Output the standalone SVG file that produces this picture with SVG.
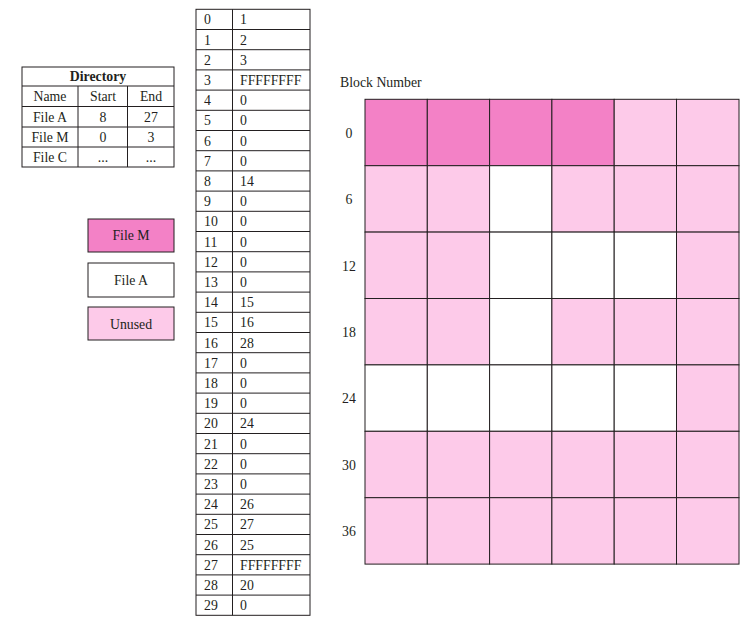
<svg xmlns="http://www.w3.org/2000/svg" width="752" height="619" viewBox="0 0 752 619">
<style>
text{font-family:"Liberation Serif","Times New Roman",serif;font-size:13.8px;fill:#231F20}
.b{font-weight:bold}
.m{text-anchor:middle}
.ln{stroke:#231F20;stroke-width:1;fill:none}
.dk{fill:#F381C6;stroke:#231F20;stroke-width:1}
.lt{fill:#FDCAE9;stroke:#231F20;stroke-width:1}
.wh{fill:#FFFFFF;stroke:#231F20;stroke-width:1}
</style>
<rect width="752" height="619" fill="#FFFFFF"/>
<g id="directory">
<rect class="wh" x="22" y="67" width="152" height="100"/>
<line class="ln" x1="22" y1="86" x2="174" y2="86"/>
<line class="ln" x1="22" y1="106.5" x2="174" y2="106.5"/>
<line class="ln" x1="22" y1="127" x2="174" y2="127"/>
<line class="ln" x1="22" y1="147" x2="174" y2="147"/>
<line class="ln" x1="78" y1="86" x2="78" y2="167"/>
<line class="ln" x1="127.5" y1="86" x2="127.5" y2="167"/>
<text class="b m" x="98" y="81">Directory</text>
<text class="m" x="50" y="101">Name</text>
<text class="m" x="103" y="101">Start</text>
<text class="m" x="151" y="101">End</text>
<text class="m" x="50" y="121.5">File A</text>
<text class="m" x="103" y="121.5">8</text>
<text class="m" x="151" y="121.5">27</text>
<text class="m" x="50" y="142">File M</text>
<text class="m" x="103" y="142">0</text>
<text class="m" x="151" y="142">3</text>
<text class="m" x="50" y="162">File C</text>
<text class="m" x="103" y="162">...</text>
<text class="m" x="151" y="162">...</text>
</g>
<g id="legend-filem"><rect class="dk" x="88" y="219" width="86" height="33"/><text class="m" x="131" y="240">File M</text></g>
<g id="legend-filea"><rect class="wh" x="88" y="263" width="86" height="34"/><text class="m" x="131" y="285">File A</text></g>
<g id="legend-unused"><rect class="lt" x="88" y="307" width="86" height="33"/><text class="m" x="131" y="328.5">Unused</text></g>
<g id="fat">
<rect class="wh" x="196" y="9.3" width="114" height="606"/>
<line class="ln" x1="232.5" y1="9.3" x2="232.5" y2="615.3"/>
<g class="ln">
<line x1="196" y1="29.5" x2="310" y2="29.5"/><line x1="196" y1="49.7" x2="310" y2="49.7"/><line x1="196" y1="69.9" x2="310" y2="69.9"/><line x1="196" y1="90.1" x2="310" y2="90.1"/><line x1="196" y1="110.3" x2="310" y2="110.3"/><line x1="196" y1="130.5" x2="310" y2="130.5"/><line x1="196" y1="150.7" x2="310" y2="150.7"/><line x1="196" y1="170.9" x2="310" y2="170.9"/><line x1="196" y1="191.1" x2="310" y2="191.1"/><line x1="196" y1="211.3" x2="310" y2="211.3"/><line x1="196" y1="231.5" x2="310" y2="231.5"/><line x1="196" y1="251.7" x2="310" y2="251.7"/><line x1="196" y1="271.9" x2="310" y2="271.9"/><line x1="196" y1="292.1" x2="310" y2="292.1"/><line x1="196" y1="312.3" x2="310" y2="312.3"/><line x1="196" y1="332.5" x2="310" y2="332.5"/><line x1="196" y1="352.7" x2="310" y2="352.7"/><line x1="196" y1="372.9" x2="310" y2="372.9"/><line x1="196" y1="393.1" x2="310" y2="393.1"/><line x1="196" y1="413.3" x2="310" y2="413.3"/><line x1="196" y1="433.5" x2="310" y2="433.5"/><line x1="196" y1="453.7" x2="310" y2="453.7"/><line x1="196" y1="473.9" x2="310" y2="473.9"/><line x1="196" y1="494.1" x2="310" y2="494.1"/><line x1="196" y1="514.3" x2="310" y2="514.3"/><line x1="196" y1="534.5" x2="310" y2="534.5"/><line x1="196" y1="554.7" x2="310" y2="554.7"/><line x1="196" y1="574.9" x2="310" y2="574.9"/><line x1="196" y1="595.1" x2="310" y2="595.1"/>
</g>
<text x="204" y="24.3">0</text><text x="240" y="24.3">1</text>
<text x="204" y="44.5">1</text><text x="240" y="44.5">2</text>
<text x="204" y="64.7">2</text><text x="240" y="64.7">3</text>
<text x="204" y="84.9">3</text><text x="240" y="84.9">FFFFFFFF</text>
<text x="204" y="105.1">4</text><text x="240" y="105.1">0</text>
<text x="204" y="125.3">5</text><text x="240" y="125.3">0</text>
<text x="204" y="145.5">6</text><text x="240" y="145.5">0</text>
<text x="204" y="165.7">7</text><text x="240" y="165.7">0</text>
<text x="204" y="185.9">8</text><text x="240" y="185.9">14</text>
<text x="204" y="206.1">9</text><text x="240" y="206.1">0</text>
<text x="204" y="226.3">10</text><text x="240" y="226.3">0</text>
<text x="204" y="246.5">11</text><text x="240" y="246.5">0</text>
<text x="204" y="266.7">12</text><text x="240" y="266.7">0</text>
<text x="204" y="286.9">13</text><text x="240" y="286.9">0</text>
<text x="204" y="307.1">14</text><text x="240" y="307.1">15</text>
<text x="204" y="327.3">15</text><text x="240" y="327.3">16</text>
<text x="204" y="347.5">16</text><text x="240" y="347.5">28</text>
<text x="204" y="367.7">17</text><text x="240" y="367.7">0</text>
<text x="204" y="387.9">18</text><text x="240" y="387.9">0</text>
<text x="204" y="408.1">19</text><text x="240" y="408.1">0</text>
<text x="204" y="428.3">20</text><text x="240" y="428.3">24</text>
<text x="204" y="448.5">21</text><text x="240" y="448.5">0</text>
<text x="204" y="468.7">22</text><text x="240" y="468.7">0</text>
<text x="204" y="488.9">23</text><text x="240" y="488.9">0</text>
<text x="204" y="509.1">24</text><text x="240" y="509.1">26</text>
<text x="204" y="529.3">25</text><text x="240" y="529.3">27</text>
<text x="204" y="549.5">26</text><text x="240" y="549.5">25</text>
<text x="204" y="569.7">27</text><text x="240" y="569.7">FFFFFFFF</text>
<text x="204" y="589.9">28</text><text x="240" y="589.9">20</text>
<text x="204" y="610.1">29</text><text x="240" y="610.1">0</text>
</g>
<g id="blocks">
<text x="340" y="87">Block Number</text>
<text class="m" x="349" y="137.5">0</text>
<text class="m" x="349" y="204">6</text>
<text class="m" x="349" y="270.5">12</text>
<text class="m" x="349" y="336.5">18</text>
<text class="m" x="349" y="403">24</text>
<text class="m" x="349" y="469.5">30</text>
<text class="m" x="349" y="536">36</text>
<rect class="dk" x="365" y="99.3" width="62.3" height="66.4"/>
<rect class="dk" x="427.3" y="99.3" width="62.3" height="66.4"/>
<rect class="dk" x="489.6" y="99.3" width="62.3" height="66.4"/>
<rect class="dk" x="551.9" y="99.3" width="62.3" height="66.4"/>
<rect class="lt" x="614.2" y="99.3" width="62.3" height="66.4"/>
<rect class="lt" x="676.5" y="99.3" width="62.5" height="66.4"/>
<rect class="lt" x="365" y="165.7" width="62.3" height="66.4"/>
<rect class="lt" x="427.3" y="165.7" width="62.3" height="66.4"/>
<rect class="wh" x="489.6" y="165.7" width="62.3" height="66.4"/>
<rect class="lt" x="551.9" y="165.7" width="62.3" height="66.4"/>
<rect class="lt" x="614.2" y="165.7" width="62.3" height="66.4"/>
<rect class="lt" x="676.5" y="165.7" width="62.5" height="66.4"/>
<rect class="lt" x="365" y="232.1" width="62.3" height="66.4"/>
<rect class="lt" x="427.3" y="232.1" width="62.3" height="66.4"/>
<rect class="wh" x="489.6" y="232.1" width="62.3" height="66.4"/>
<rect class="wh" x="551.9" y="232.1" width="62.3" height="66.4"/>
<rect class="wh" x="614.2" y="232.1" width="62.3" height="66.4"/>
<rect class="lt" x="676.5" y="232.1" width="62.5" height="66.4"/>
<rect class="lt" x="365" y="298.5" width="62.3" height="66.4"/>
<rect class="lt" x="427.3" y="298.5" width="62.3" height="66.4"/>
<rect class="wh" x="489.6" y="298.5" width="62.3" height="66.4"/>
<rect class="lt" x="551.9" y="298.5" width="62.3" height="66.4"/>
<rect class="lt" x="614.2" y="298.5" width="62.3" height="66.4"/>
<rect class="lt" x="676.5" y="298.5" width="62.5" height="66.4"/>
<rect class="wh" x="365" y="364.9" width="62.3" height="66.4"/>
<rect class="wh" x="427.3" y="364.9" width="62.3" height="66.4"/>
<rect class="wh" x="489.6" y="364.9" width="62.3" height="66.4"/>
<rect class="wh" x="551.9" y="364.9" width="62.3" height="66.4"/>
<rect class="wh" x="614.2" y="364.9" width="62.3" height="66.4"/>
<rect class="lt" x="676.5" y="364.9" width="62.5" height="66.4"/>
<rect class="lt" x="365" y="431.3" width="62.3" height="66.4"/>
<rect class="lt" x="427.3" y="431.3" width="62.3" height="66.4"/>
<rect class="lt" x="489.6" y="431.3" width="62.3" height="66.4"/>
<rect class="lt" x="551.9" y="431.3" width="62.3" height="66.4"/>
<rect class="lt" x="614.2" y="431.3" width="62.3" height="66.4"/>
<rect class="lt" x="676.5" y="431.3" width="62.5" height="66.4"/>
<rect class="lt" x="365" y="497.7" width="62.3" height="66.4"/>
<rect class="lt" x="427.3" y="497.7" width="62.3" height="66.4"/>
<rect class="lt" x="489.6" y="497.7" width="62.3" height="66.4"/>
<rect class="lt" x="551.9" y="497.7" width="62.3" height="66.4"/>
<rect class="lt" x="614.2" y="497.7" width="62.3" height="66.4"/>
<rect class="lt" x="676.5" y="497.7" width="62.5" height="66.4"/>
</g>
</svg>
